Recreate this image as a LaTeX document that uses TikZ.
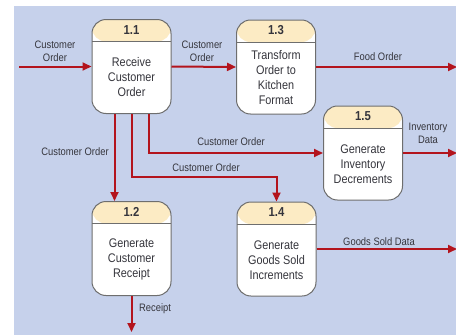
\documentclass[tikz,border=0pt]{standalone}
\usepackage{fontspec}
\setmainfont{Liberation Sans}[FakeStretch=0.87]
\usetikzlibrary{arrows.meta}
\definecolor{bg}{HTML}{C6D1EB}
\definecolor{hdr}{HTML}{FCEBC4}
\definecolor{flowred}{HTML}{B3141D}
\definecolor{boxline}{HTML}{6E6E6E}
\definecolor{txt}{HTML}{35353C}
\begin{document}
\begin{tikzpicture}[x=1pt,y=-1pt,
  proc/.style={draw=boxline, line width=1pt, fill=white, rounded corners=14pt,
    minimum width=79pt, minimum height=94pt, inner sep=0pt,
    path picture={\fill[hdr] (path picture bounding box.north west) rectangle ([yshift=-22pt]path picture bounding box.north east);
      \draw[boxline, line width=1pt] ([yshift=-22pt]path picture bounding box.north west) -- ([yshift=-22pt]path picture bounding box.north east);}},
  num/.style={font=\bfseries\fontsize{13}{14}\selectfont, text=txt, inner sep=0pt},
  body/.style={align=center, font=\fontsize{12.5}{15}\selectfont, text=txt, inner sep=0pt},
  lbl/.style={align=center, font=\fontsize{10.8}{13}\selectfont, text=txt, inner sep=0pt},
  flow/.style={draw=flowred, line width=2pt, -{Triangle[length=9pt,width=8pt]}}
]
\useasboundingbox (0,0) rectangle (456,335);
\fill[white] (0,0) rectangle (456,335);
\fill[bg] (14,6) rectangle (456,335);

% processes
\node[proc] (p11) at (131.5,66.5) {};
\node[num] (p11n) at ([yshift=-11pt]p11.north) {1.1};
\node[body] (p11t) at ([yshift=-11pt]p11.center) {Receive\\Customer\\Order};

\node[proc] (p13) at (276,67) {};
\node[num] (p13n) at ([yshift=-11pt]p13.north) {1.3};
\node[body] (p13t) at ([yshift=-11pt]p13.center) {Transform\\Order to\\Kitchen\\Format};

\node[proc] (p15) at (363,153) {};
\node[num] (p15n) at ([yshift=-11pt]p15.north) {1.5};
\node[body] (p15t) at ([yshift=-11pt]p15.center) {Generate\\Inventory\\Decrements};

\node[proc] (p12) at (131.5,248.5) {};
\node[num] (p12n) at ([yshift=-11pt]p12.north) {1.2};
\node[body] (p12t) at ([yshift=-11pt]p12.center) {Generate\\Customer\\Receipt};

\node[proc] (p14) at (276.5,249) {};
\node[num] (p14n) at ([yshift=-11pt]p14.north) {1.4};
\node[body] (p14t) at ([yshift=-11pt]p14.center) {Generate\\Goods Sold\\Increments};

% free ends
\coordinate (in) at (19,66.5);
\coordinate (food) at (457,67);
\coordinate (inv) at (457,153);
\coordinate (goods) at (457,249);
\coordinate (rcpt) at (131.5,332);
\coordinate (bend) at (200,177);

% flows
\draw[flow] (in) -- (p11.west);
\draw[flow] (p11.east) -- (p13.west);
\draw[flow] (p13.east) -- (food);
\draw[flow] (p15.east) -- (inv);
\draw[flow] (p14.east) -- (goods);
\draw[flow] (p12.south) -- (rcpt);
\draw[flow] ([xshift=-17pt]p11.south) -- ([xshift=-17pt]p12.north);
\draw[flow] ([xshift=17.5pt]p11.south) |- (p15.west);
\draw[flow] (p11.south) |- (bend) -| (p14.north);

% labels
\node[lbl] (l1) at (55,51) {Customer\\Order};
\node[lbl] (l2) at (202,51) {Customer\\Order};
\node[lbl] (l3) at (378,57) {Food Order};
\node[lbl] (l4) at (428,133) {Inventory\\Data};
\node[lbl] (l5) at (75,152) {Customer Order};
\node[lbl] (l6) at (231,142) {Customer Order};
\node[lbl] (l7) at (206,168) {Customer Order};
\node[lbl] (l8) at (379,242) {Goods Sold Data};
\node[lbl] (l9) at (155,309) {Receipt};
\end{tikzpicture}
\end{document}
